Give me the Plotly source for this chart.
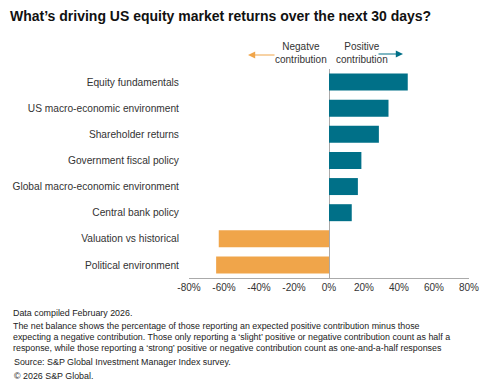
import plotly.graph_objects as go

categories = ["Equity fundamentals", "US macro-economic environment", "Shareholder returns",
              "Government fiscal policy", "Global macro-economic environment", "Central bank policy",
              "Valuation vs historical", "Political environment"]
values = [45, 34, 28.5, 18.5, 16.5, 13, -63, -64.5]
tick_vals = [-80, -60, -40, -20, 0, 20, 40, 60, 80]
tick_text = ["-80%", "-60%", "-40%", "-20%", "0%", "20%", "40%", "60%", "80%"]

note_lines = [
    "Data compiled February 2026.",
    "The net balance shows the percentage of those reporting an expected positive contribution minus those",
    "expecting a negative contribution. Those only reporting a ‘slight’ positive or negative contribution count as half a",
    "response, while those reporting a ‘strong’ positive or negative contribution count as one-and-a-half responses",
    "Source: S&P Global Investment Manager Index survey.",
    "© 2026 S&P Global.",
]

TEAL = "#007088"
ORANGE = "#f0a54a"
colors = [TEAL if v >= 0 else ORANGE for v in values]

W, H = 498, 388
L, R, T, B = 189, 29, 69, 110
PW, PH = W - L - R, H - T - B

def px(x):
    return (x - L) / PW

def py(y):
    return (H - B - y) / PH

FONT = "Liberation Sans, Arial, sans-serif"

fig = go.Figure(go.Bar(
    x=values, y=categories, orientation="h",
    marker=dict(color=colors, line=dict(width=0)),
    hoverinfo="skip",
))

annotations = [
    dict(text="Negatve<br>contribution", x=px(328.5), y=py(52.5), xanchor="right", yanchor="middle",
         align="center", font=dict(size=10, color="#333333")),
    dict(text="Positive<br>contribution", x=px(334), y=py(52.5), xanchor="left", yanchor="middle",
         align="center", font=dict(size=10, color="#333333")),
    dict(text="", x=px(248), y=py(55), ax=28, ay=0, showarrow=True, arrowhead=2,
         arrowsize=1.2, arrowwidth=1.2, arrowcolor=ORANGE),
    dict(text="", x=px(403), y=py(54), ax=-26, ay=0, showarrow=True, arrowhead=2,
         arrowsize=1.2, arrowwidth=1.2, arrowcolor=TEAL),
]
note_x = [11, 11, 11, 11, 12, 12]
note_y = [313, 326, 337, 348, 362, 376]
for t, nx, ny in zip(note_lines, note_x, note_y):
    annotations.append(dict(text=t, x=px(nx), y=py(ny), xanchor="left", yanchor="middle",
                            font=dict(size=8.9, color="#222222")))
for a in annotations:
    a.setdefault("xref", "paper")
    a.setdefault("yref", "paper")
    a.setdefault("showarrow", False)

fig.update_layout(
    width=W, height=H,
    margin=dict(l=L, r=R, t=T, b=B),
    paper_bgcolor="white", plot_bgcolor="white",
    font=dict(family=FONT, size=10, color="#333333"),
    title=dict(text="<b>What’s driving US equity market returns over the next 30 days?</b>",
               x=10 / W, xanchor="left", y=1 - 16 / H, yanchor="middle",
               font=dict(size=14, color="#111111", family=FONT)),
    showlegend=False,
    bargap=0.35,
    annotations=annotations,
)
fig.update_xaxes(range=[-80, 80], tickvals=tick_vals, ticktext=tick_text, showgrid=False,
                 zeroline=True, zerolinecolor="#aaaaaa", zerolinewidth=1,
                 showline=True, linecolor="#aaaaaa", linewidth=1, ticks="",
                 tickfont=dict(size=10, color="#333333"), fixedrange=True)
fig.update_yaxes(categoryorder="array", categoryarray=categories, autorange="reversed",
                 showgrid=False, zeroline=False, showline=False,
                 ticks="outside", ticklen=7, tickcolor="rgba(0,0,0,0)",
                 tickfont=dict(size=10.2, color="#333333"), fixedrange=True)

fig.write_html("out.html", config={"displayModeBar": False},
               post_script="document.body.style.margin='0';document.body.style.overflow='hidden';")
